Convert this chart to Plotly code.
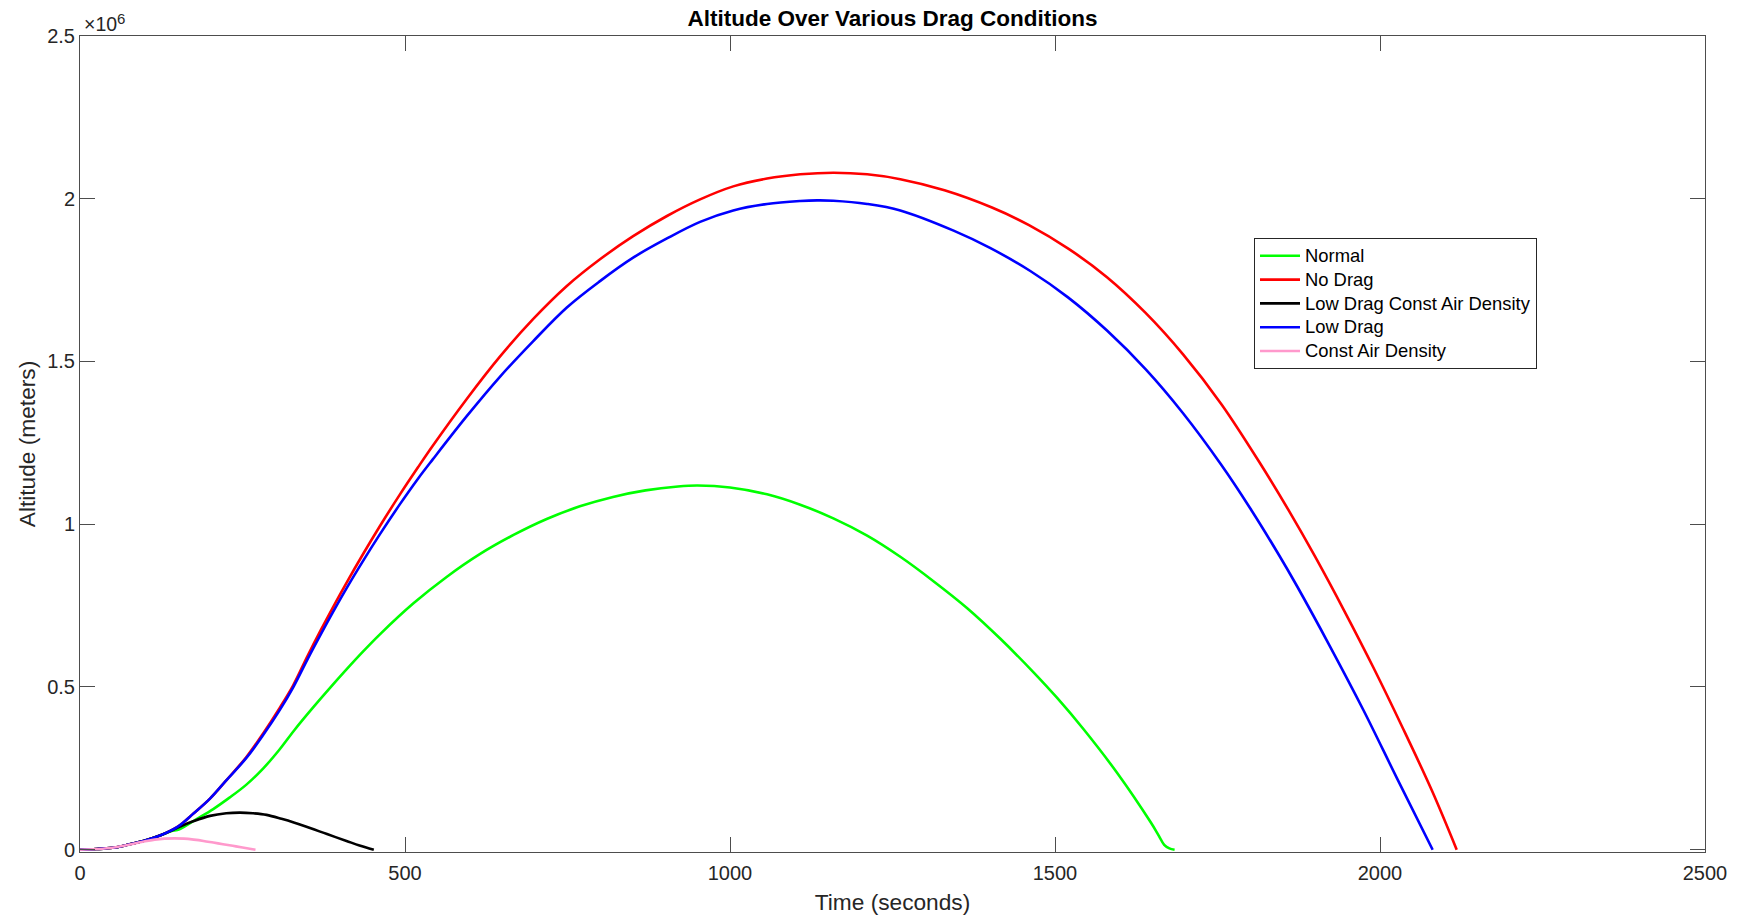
import plotly.graph_objects as go

# ---- data (time in seconds, altitude in meters) ----
t_normal = [0, 25, 50, 75, 100, 125, 140, 153, 180, 205, 230, 256, 282, 307, 330, 359, 385, 410, 436, 461,
            513, 564, 615, 667, 718, 769, 820, 870, 920, 950, 1000, 1057, 1108, 1159, 1211, 1262, 1313,
            1365, 1416, 1467, 1503, 1544, 1596, 1647, 1660, 1668, 1676, 1684]
alt_normal = [0, 2e3, 6e3, 16e3, 28e3, 45e3, 57e3, 63e3, 95e3, 125e3, 160e3, 200e3, 250e3, 308e3, 368e3,
              438e3, 498e3, 554e3, 610e3, 661e3, 757e3, 838e3, 908e3, 967e3, 1016e3, 1055e3, 1084e3,
              1104e3, 1116e3, 1119e3, 1113e3, 1092e3, 1060e3, 1018e3, 965e3, 900e3, 825e3, 742e3, 648e3,
              545e3, 467e3, 370e3, 235e3, 85e3, 42e3, 15e3, 4e3, 0]

t_nodrag = [0, 25, 50, 75, 100, 125, 150, 175, 200, 225, 256, 282, 307, 328, 350, 370, 390, 410, 436, 461,
            492, 520, 543, 595, 646, 697, 749, 800, 851, 903, 954, 1005, 1057, 1108, 1159, 1211, 1262,
            1330, 1403, 1460, 1521, 1580, 1639, 1697, 1756, 1815, 1860, 1900, 1945, 1990, 2035, 2080, 2118]
alt_nodrag = [0, 2e3, 6e3, 16e3, 28e3, 45e3, 70e3, 112e3, 157e3, 213e3, 285e3, 358e3, 435e3, 505e3, 595e3,
              673e3, 748e3, 820e3, 910e3, 993e3, 1091e3, 1175e3, 1242e3, 1385e3, 1515e3, 1630e3, 1732e3,
              1814e3, 1885e3, 1947e3, 1998e3, 2038e3, 2062e3, 2075e3, 2080e3, 2075e3, 2060e3, 2026e3,
              1973e3, 1919e3, 1846e3, 1759e3, 1650e3, 1522e3, 1369e3, 1189e3, 1041e3, 901e3, 734e3,
              559e3, 374e3, 181e3, 0]

t_lowdrag_const = [0, 25, 50, 75, 100, 125, 140, 155, 175, 200, 225, 246, 266, 287, 310, 330, 355, 380,
                   410, 430, 452]
alt_lowdrag_const = [0, 2e3, 6e3, 16e3, 28e3, 45e3, 58e3, 72e3, 88e3, 104e3, 112e3, 114e3, 112e3, 107e3,
                     95e3, 83e3, 66e3, 48e3, 27e3, 13e3, 0]

t_lowdrag = [0, 25, 50, 75, 100, 125, 150, 175, 200, 225, 256, 282, 307, 328, 350, 370, 390, 410, 436, 461,
             492, 520, 543, 595, 646, 697, 749, 800, 851, 903, 954, 1005, 1057, 1108, 1134, 1159, 1211,
             1262, 1344, 1400, 1462, 1520, 1580, 1640, 1697, 1756, 1800, 1845, 1872, 1923, 1975, 2026, 2081]
alt_lowdrag = [0, 2e3, 6e3, 16e3, 28e3, 45e3, 70e3, 112e3, 157e3, 213e3, 282e3, 353e3, 428e3, 499e3, 585e3,
               660e3, 733e3, 803e3, 889e3, 968e3, 1061e3, 1140e3, 1200e3, 1332e3, 1453e3, 1562e3, 1666e3,
               1747e3, 1819e3, 1878e3, 1929e3, 1964e3, 1984e3, 1993e3, 1995e3, 1994e3, 1984e3, 1964e3,
               1902e3, 1849e3, 1778e3, 1697e3, 1595e3, 1475e3, 1341e3, 1182e3, 1050e3, 904e3, 811e3,
               625e3, 427e3, 220e3, 0]

t_const = [0, 25, 50, 75, 90, 100, 115, 130, 145, 160, 175, 190, 205, 220, 235, 250, 270]
alt_const = [0, 2e3, 6e3, 15e3, 22e3, 26e3, 31e3, 34e3, 35e3, 34e3, 31e3, 27e3, 22e3, 17e3, 12e3, 7e3, 0]

series_names = ["Normal", "No Drag", "Low Drag Const Air Density", "Low Drag", "Const Air Density"]
series_colors = ["#00ff00", "#ff0000", "#000000", "#0000ff", "#ff99cc"]

x_ticks = [0, 500, 1000, 1500, 2000, 2500]
y_tick_vals = [0, 0.5e6, 1.0e6, 1.5e6, 2.0e6, 2.5e6]
y_tick_text = ["0", "0.5", "1", "1.5", "2", "2.5"]

series = [(t_normal, alt_normal), (t_nodrag, alt_nodrag), (t_lowdrag_const, alt_lowdrag_const),
          (t_lowdrag, alt_lowdrag), (t_const, alt_const)]

FONT = "Liberation Sans, Arial, sans-serif"
AX = "#262626"
LINE = "#4d4d4d"

fig = go.Figure()
for (tx, ay), name, col in zip(series, series_names, series_colors):
    fig.add_trace(go.Scatter(
        x=tx, y=ay, mode="lines",
        name="<span style='font-size:18.4px'>" + name + "</span>",
        line=dict(color=col, width=2.6, shape="spline", smoothing=1.0)))

fig.update_layout(
    width=1740, height=920,
    margin=dict(l=80, r=35, t=36, b=67.5, autoexpand=False),
    paper_bgcolor="white", plot_bgcolor="white",
    font=dict(family=FONT, color=AX),
    title=dict(text="Altitude Over Various Drag Conditions", x=0.5, xref="paper",
               y=1 - 17.8 / 920, yref="container", yanchor="middle", xanchor="center",
               font=dict(size=22.5, color="#000000", family=FONT, weight="bold")),
    showlegend=True,
    legend=dict(x=(1254 - 80) / 1625, y=(852.5 - 238) / 816.5, xanchor="left", yanchor="top",
                bgcolor="white", bordercolor=AX, borderwidth=1,
                font=dict(size=16, color="#000000", family=FONT),
                tracegroupgap=0, itemwidth=40),
)

fig.update_xaxes(range=[0, 2500], tickvals=x_ticks, ticks="inside", ticklen=15, tickcolor=LINE,
                 showline=True, linecolor=LINE, linewidth=1, mirror="ticks", showgrid=False,
                 zeroline=False, tickfont=dict(size=20, color=AX), ticklabelstandoff=3,
                 title=dict(text="Time (seconds)", font=dict(size=22.7, color=AX), standoff=11))
fig.update_yaxes(range=[-7000, 2.5e6], tickvals=y_tick_vals, ticktext=y_tick_text, ticks="inside",
                 ticklen=15, tickcolor=LINE, showline=True, linecolor=LINE, linewidth=1, mirror="ticks",
                 showgrid=False, zeroline=False, tickfont=dict(size=20, color=AX),
                 title=dict(text="Altitude (meters)", font=dict(size=22.7, color=AX), standoff=5))

# exponent label (x10^6) above the y axis
fig.add_annotation(text="×10", xref="paper", yref="paper", x=(119 - 80) / 1625, y=1,
                   xanchor="right", yanchor="bottom", showarrow=False, yshift=-1,
                   font=dict(size=19.5, color=AX, family=FONT))
fig.add_annotation(text="6", xref="paper", yref="paper", x=(115 - 80) / 1625, y=1,
                   xanchor="left", yanchor="middle", showarrow=False, yshift=18,
                   font=dict(size=15, color=AX, family=FONT))

fig.write_html("out.html", config={"displayModeBar": False},
               post_script="document.body.style.margin='0px';")
